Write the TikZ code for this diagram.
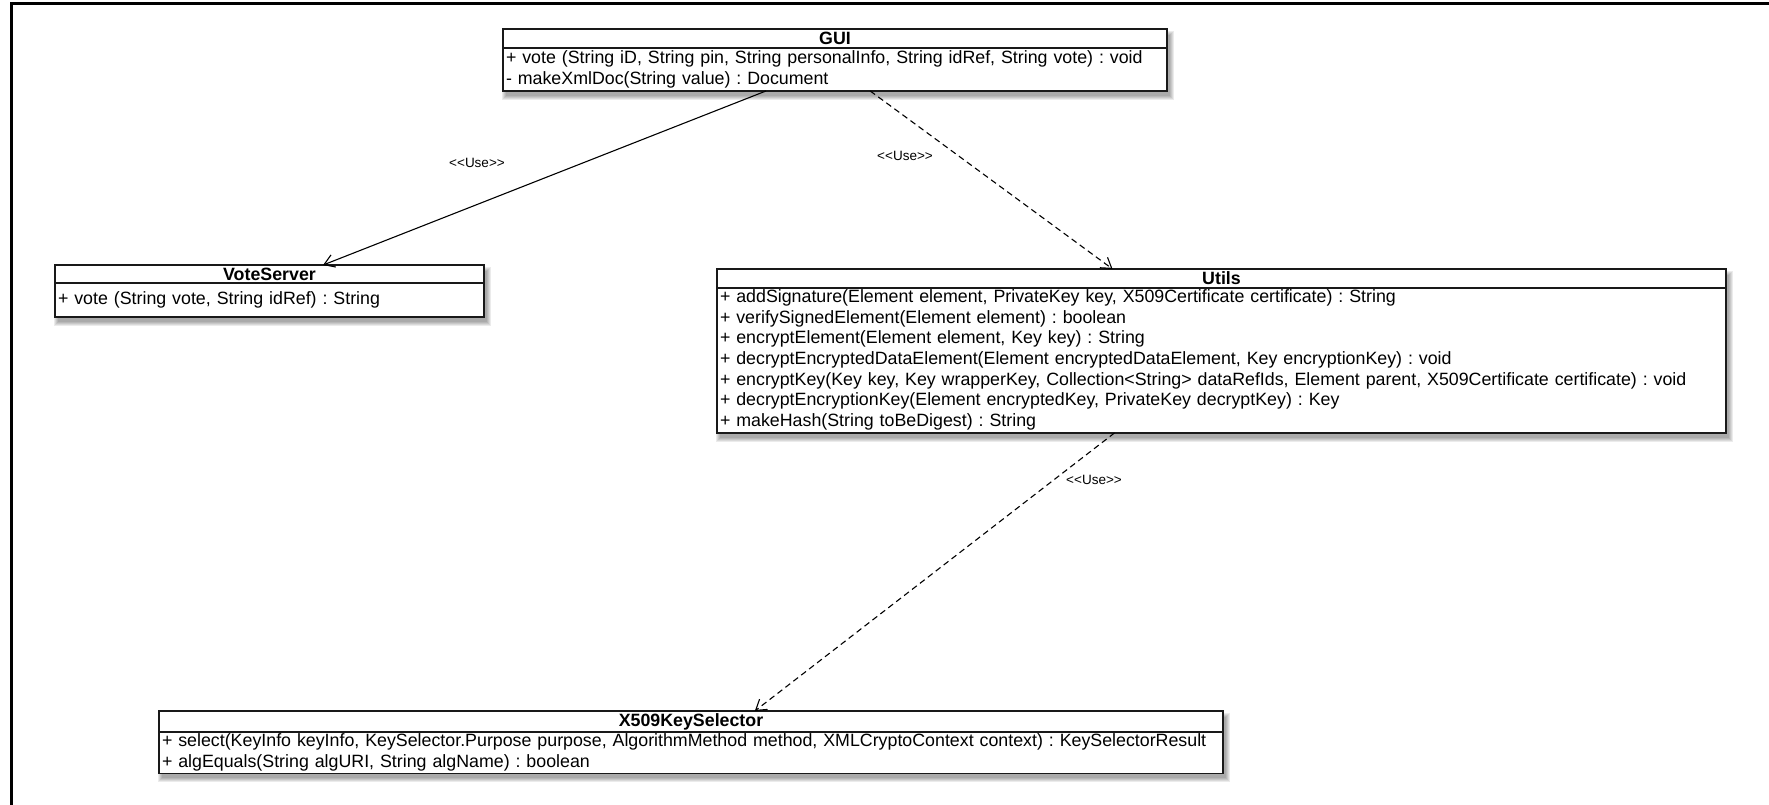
\documentclass[tikz,border=0pt]{standalone}
\usepackage{fontspec}
\setmainfont{Liberation Sans}
\frenchspacing
\usetikzlibrary{arrows.meta,calc,backgrounds}
% guillemet-free stereotype brackets
\newcommand{\stereotype}[1]{<\kern0pt<#1>\kern0pt>}
% soft shadow under a class box made of a name node and a member node
\newcommand{\softshadow}[2]{%
  \begin{pgfonlayer}{background}
    \foreach \r in {0,1,2,3,4}{
      \fill[black,opacity=0.08] ($(#1.north west)+(3-\r,6-\r)$)
        rectangle ($(#2.south east)+(3+\r,5+\r)$);
    }
  \end{pgfonlayer}}
\begin{document}
\begin{tikzpicture}[x=1pt,y=-1pt,
  classname/.style={draw=black!90,line width=1.2pt,fill=white,inner sep=0pt,
    outer sep=0pt,minimum height=19pt,anchor=north west,
    font=\bfseries\fontsize{17.8}{20.7}\selectfont},
  members/.style={draw=black!90,line width=1.2pt,fill=white,inner xsep=3pt,
    inner ysep=0pt,outer sep=0pt,anchor=north west,align=left,text width=#1,
    font=\fontsize{17.8}{20.7}\selectfont},
  uses/.style={line width=1.1pt,-{Straight Barb[length=10pt,width=13pt]}},
  usesdashed/.style={uses,dash pattern=on 6pt off 4pt},
  stereo/.style={font=\fontsize{13.5}{16}\selectfont,inner sep=1pt}
]
\useasboundingbox (0,0) rectangle (1769,805);
% page frame (top and left rules)
\draw[line width=3pt] (11,805) -- (11,4) -- (1769,4);

% GUI
\node[classname,minimum width=664pt] (gui) at (503,29) {GUI};
\node[members=658pt,font=\fontsize{17.8}{21.5}\selectfont] (guib) at (gui.south west)
  {\strut + vote (String iD, String pin, String personalInfo, String idRef, String vote) : void\\
   \strut - makeXmlDoc(String value) : Document};
\softshadow{gui}{guib}

% VoteServer
\node[classname,minimum width=429pt,minimum height=18pt] (vote) at (55,265) {VoteServer};
\node[members=423pt,minimum height=34pt] (voteb) at (vote.south west)
  {\strut + vote (String vote, String idRef) : String};
\softshadow{vote}{voteb}

% Utils
\node[classname,minimum width=1009pt] (utils) at (717,269) {Utils};
\node[members=1003pt] (utilsb) at (utils.south west)
  {\strut + addSignature(Element element, PrivateKey key, X509Certificate certificate) : String\\
   \strut + verifySignedElement(Element element) : boolean\\
   \strut + encryptElement(Element element, Key key) : String\\
   \strut + decryptEncryptedDataElement(Element encryptedDataElement, Key encryptionKey) : void\\
   \strut + encryptKey(Key key, Key wrapperKey, Collection<String> dataRefIds, Element parent, X509Certificate certificate) : void\\
   \strut + decryptEncryptionKey(Element encryptedKey, PrivateKey decryptKey) : Key\\
   \strut + makeHash(String toBeDigest) : String};
\softshadow{utils}{utilsb}

% X509KeySelector
\node[classname,minimum width=1064pt,minimum height=21pt] (keysel) at (159,711) {X509KeySelector};
\node[members=1058pt] (keyselb) at (keysel.south west)
  {\strut + select(KeyInfo keyInfo, KeySelector.Purpose purpose, AlgorithmMethod method, XMLCryptoContext context) : KeySelectorResult\\
   \strut + algEquals(String algURI, String algName) : boolean};
\softshadow{keysel}{keyselb}

% dependencies
\draw[uses] ($(guib.south west)!0.396!(guib.south east)$)
  -- ($(vote.north west)!0.625!(vote.north east)$);
\draw[usesdashed] ($(guib.south west)!0.553!(guib.south east)$)
  -- ($(utils.north west)!0.392!(utils.north east)$);
\draw[usesdashed] ($(utilsb.south west)!0.394!(utilsb.south east)$)
  -- ($(keysel.north west)!0.56!(keysel.north east)$);

\node[stereo] (use1) at (477,163) {\stereotype{Use}};
\node[stereo] (use2) at (905,156) {\stereotype{Use}};
\node[stereo] (use3) at (1094,480) {\stereotype{Use}};
\end{tikzpicture}
\end{document}
